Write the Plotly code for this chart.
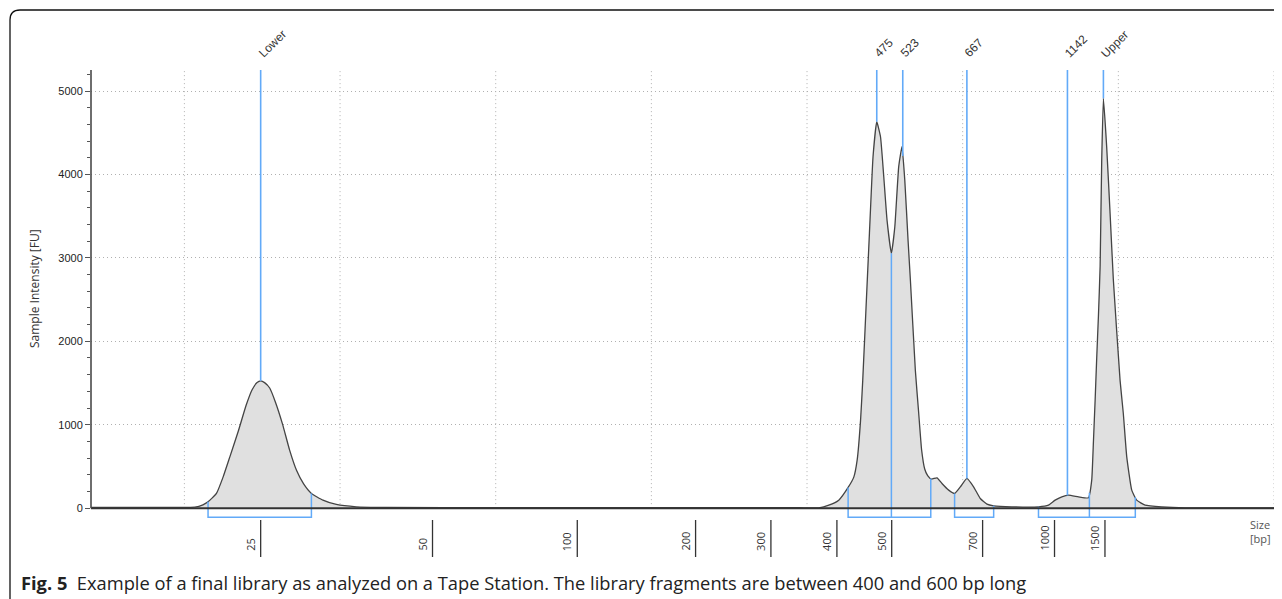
import numpy as np
import plotly.graph_objects as go

# ---------------- data ----------------
# migration position (arbitrary axis units, grid every 1 unit) and intensity [FU]
curve_pos = [0.400, 0.778, 1.035, 1.067, 1.119, 1.152, 1.206, 1.249, 1.292, 1.345,
             1.396, 1.435, 1.467, 1.490, 1.515, 1.548, 1.585, 1.630, 1.676, 1.721,
             1.766, 1.816, 1.890, 1.976, 2.104, 2.297, 3.023, 4.306, 4.948, 5.076,
             5.140, 5.204, 5.264, 5.301, 5.322, 5.344, 5.358, 5.379, 5.401, 5.424,
             5.448, 5.472, 5.493, 5.514, 5.542, 5.564, 5.589, 5.610, 5.628, 5.649,
             5.664, 5.696, 5.717, 5.736, 5.756, 5.775, 5.799, 5.835, 5.867, 5.910,
             5.948, 5.985, 6.027, 6.070, 6.113, 6.156, 6.199, 6.316, 6.487, 6.551,
             6.594, 6.637, 6.680, 6.744, 6.808, 6.829, 6.840, 6.851, 6.861, 6.872,
             6.883, 6.893, 6.904, 6.925, 6.947, 6.968, 7.011, 7.032, 7.054, 7.086,
             7.118, 7.172, 7.279, 7.428, 8.000]
curve_fu = [8, 8, 10, 12, 40, 76, 176, 375, 615, 915,
            1230, 1420, 1505, 1525, 1505, 1440, 1270, 1010, 695, 450,
            290, 176, 96, 44, 16, 8, 5, 5, 5, 4,
            36, 96, 248, 375, 575, 1055, 1535, 2400, 3300, 4213,
            4632, 4452, 3973, 3453, 3054, 3373, 4093, 4333, 3933, 3213,
            2734, 1650, 1150, 700, 470, 390, 348, 364, 296, 216,
            176, 256, 356, 256, 116, 48, 28, 16, 16, 36,
            96, 136, 156, 136, 124, 336, 800, 1300, 1800, 2300,
            2900, 4150, 4912, 4333, 3533, 2734, 1535, 1135, 615, 216,
            96, 36, 16, 4, 2]

peak_labels = ["Lower", "475", "523", "667", "1142", "Upper"]
peak_pos = [1.490, 5.448, 5.615, 6.027, 6.673, 6.904]

region_start = [1.152, 5.264, 5.948, 6.487]
region_end = [1.816, 5.795, 6.199, 7.109]
region_div = [5.542, 6.814]

size_labels = ["25", "50", "100", "200", "300", "400", "500", "700", "1000", "1500"]
size_pos = [1.490, 2.594, 3.524, 4.284, 4.768, 5.192, 5.544, 6.128, 6.590, 6.914]

y_ticks = [0, 1000, 2000, 3000, 4000, 5000]
grid_pos = [1, 2, 3, 4, 5, 6, 7, 8]

# ---------------- layout helpers ----------------
# the page body has an 8px margin, so the figure is drawn at (8, 8)
W, H = 1266, 591
ML, MT = 83, 62
PW, PH = 1183, 449
MR, MB = W - ML - PW, H - MT - PH
X_RANGE = [0.4, 8.0]
Y_RANGE = [-130, 5252]
Y_BRACKET = -108

# page-pixel -> paper coordinates
PLOT_LEFT, PLOT_BOTTOM = 91, 519


def px_x(px):
    return (px - PLOT_LEFT) / PW


def px_y(py):
    return (PLOT_BOTTOM - py) / PH


BLUE = "#62aaf8"
GRID = "#b0b0b0"
cp = np.array(curve_pos)
cf = np.array(curve_fu)


def f_at(u):
    return float(np.interp(u, cp, cf))


fig = go.Figure()

# electropherogram
fig.add_trace(go.Scatter(
    x=curve_pos, y=curve_fu, mode="lines", fill="tozeroy",
    fillcolor="#e0e0e0", line=dict(color="#444444", width=1.3, shape="spline", smoothing=0.4),
    hoverinfo="skip", showlegend=False))

# region brackets
bx, by = [], []
for a, b in zip(region_start, region_end):
    bx += [a, a, b, b, None]
    by += [f_at(a), Y_BRACKET, Y_BRACKET, f_at(b), None]
for d in region_div:
    bx += [d, d, None]
    by += [f_at(d), Y_BRACKET, None]
fig.add_trace(go.Scatter(x=bx, y=by, mode="lines", line=dict(color=BLUE, width=1.5),
                         hoverinfo="skip", showlegend=False))

# peak markers
mx, my = [], []
for p in peak_pos:
    mx += [p, p, None]
    my += [Y_RANGE[1], f_at(p), None]
fig.add_trace(go.Scatter(x=mx, y=my, mode="lines", line=dict(color=BLUE, width=1.6),
                         hoverinfo="skip", showlegend=False))

shapes = []
# vertical dotted grid
for g in grid_pos:
    shapes.append(dict(type="line", xref="x", yref="y", x0=g, x1=g, y0=0, y1=Y_RANGE[1],
                       line=dict(color=GRID, width=1, dash="1px,3px"), layer="below"))
# axis lines
shapes.append(dict(type="line", xref="paper", yref="y", x0=0, x1=1, y0=0, y1=0,
                   line=dict(color="#333333", width=2)))
shapes.append(dict(type="line", xref="paper", yref="y", x0=0, x1=0, y0=0, y1=Y_RANGE[1],
                   line=dict(color="#4a4a4a", width=1.6)))
# size tick lines
for p in size_pos:
    shapes.append(dict(type="line", xref="x", yref="paper", x0=p, x1=p,
                       y0=px_y(520), y1=px_y(557), line=dict(color="#333333", width=1.3)))
# rounded frame (left and top edges visible)
r = 10
frame = (f"M {px_x(10)},{px_y(640)} L {px_x(10)},{px_y(10 + r)} "
         f"Q {px_x(10)},{px_y(10)} {px_x(10 + r)},{px_y(10)} L {px_x(1320)},{px_y(10)}")
shapes.append(dict(type="path", xref="paper", yref="paper", path=frame,
                   line=dict(color="#111111", width=1.3)))

annotations = []
for lab, p in zip(peak_labels, peak_pos):
    annotations.append(dict(x=p, y=px_y(63), xref="x", yref="paper", text=lab,
                            showarrow=False, textangle=-45, xanchor="left", yanchor="bottom",
                            xshift=-8, font=dict(family="Liberation Sans", size=12, color="#333333")))
for lab, p in zip(size_labels, size_pos):
    annotations.append(dict(x=p, y=px_y(553), xref="x", yref="paper", text=lab,
                            showarrow=False, textangle=-90, xanchor="right", yanchor="bottom",
                            xshift=-1, font=dict(family="Open Sans", size=11, color="#333333")))
annotations.append(dict(x=px_x(1273), y=px_y(515), xref="paper", yref="paper",
                        text="Size<br>[bp]", showarrow=False, xanchor="right", yanchor="top",
                        align="left", font=dict(family="Open Sans", size=11, color="#555555")))
annotations.append(dict(x=px_x(34), y=px_y(289), xref="paper", yref="paper",
                        text="Sample Intensity [FU]", showarrow=False, textangle=-90,
                        xanchor="center", yanchor="middle",
                        font=dict(family="Open Sans", size=12, color="#333333")))
annotations.append(dict(x=px_x(19), y=px_y(582), xref="paper", yref="paper",
                        text="<b>Fig. 5</b>\u00a0\u00a0Example of a final library as analyzed on a Tape Station. "
                             "The library fragments are between 400 and 600 bp long",
                        showarrow=False, xanchor="left", yanchor="middle",
                        font=dict(family="Open Sans", size=18.3, color="#222222")))

fig.update_layout(
    width=W, height=H, margin=dict(l=ML, r=MR, t=MT, b=MB),
    paper_bgcolor="white", plot_bgcolor="white",
    shapes=shapes, annotations=annotations, showlegend=False,
    xaxis=dict(range=X_RANGE, showgrid=False, zeroline=False, showline=False,
               showticklabels=False, ticks=""),
    yaxis=dict(range=Y_RANGE, tickvals=y_ticks, ticktext=[str(v) for v in y_ticks],
               showgrid=True, gridcolor=GRID, griddash="1px,3px", gridwidth=1,
               zeroline=False, showline=False, ticks="outside", ticklen=5,
               tickcolor="#555555", tickwidth=1.3,
               tickfont=dict(family="Liberation Sans", size=11, color="#222222"),
               minor=dict(ticks="outside", ticklen=3, dtick=200, tick0=0,
                          tickcolor="#555555", showgrid=False)),
)

fig.write_html("out.html")
